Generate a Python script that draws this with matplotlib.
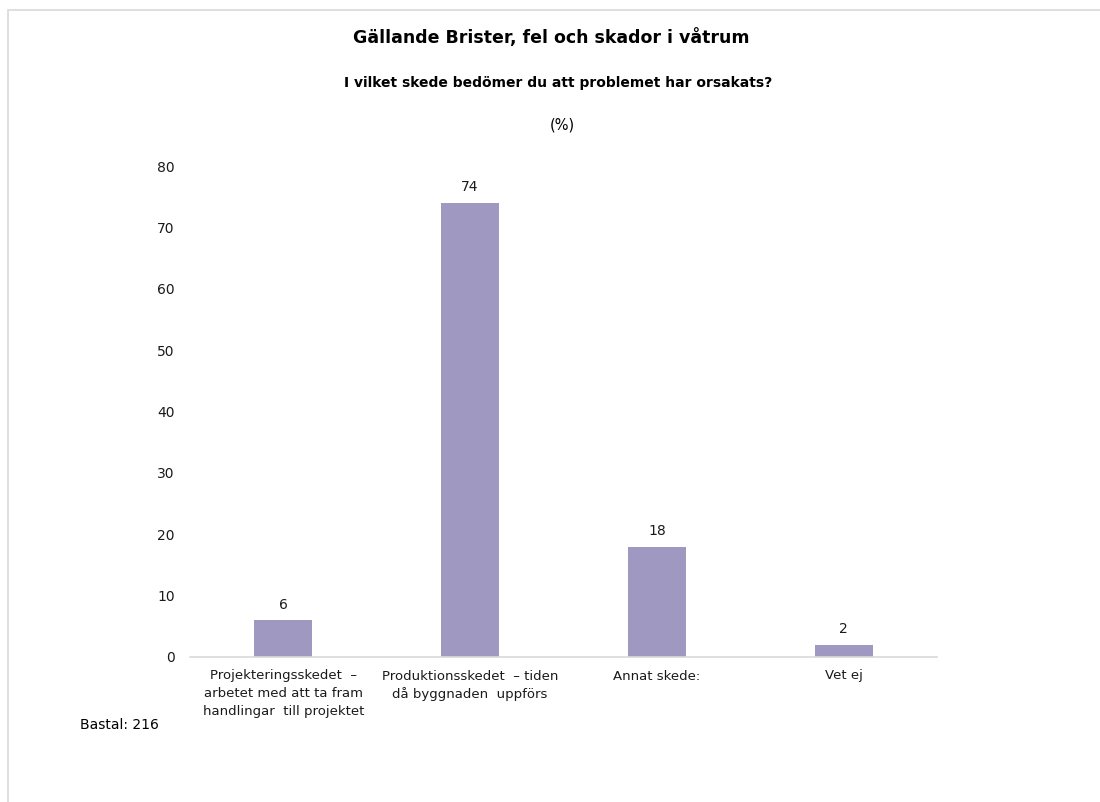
import matplotlib.pyplot as plt
from matplotlib.patches import Rectangle

# survey answers, percent of respondents
categories = ['Projekteringsskedet  –\narbetet med att ta fram\nhandlingar  till projektet',
              'Produktionsskedet  – tiden\ndå byggnaden  uppförs',
              'Annat skede:',
              'Vet ej']
percent = [6, 74, 18, 2]
yticks = [0, 10, 20, 30, 40, 50, 60, 70, 80]

W, H = 1100, 802
fig = plt.figure(figsize=(W / 100, H / 100), dpi=100)
plt.rcParams['font.family'] = ['DejaVu Sans']

# light frame round the chart area
fig.patches.append(Rectangle((8 / W, -0.1), 1.2, (H - 10) / H + 0.1,
                             transform=fig.transFigure, fill=False,
                             edgecolor='#d9d9d9', linewidth=1.2))

ax = fig.add_axes([190 / W, 1 - 657 / H, (937 - 190) / W, (657 - 166) / H])
x = range(len(categories))
ax.bar(x, percent, width=0.31, color='#9f98c0')
for i, v in zip(x, percent):
    ax.text(i, v + 1.4, f'{v:.0f}', ha='center', va='bottom', fontsize=10, color='#1a1a1a')

ax.set_xlim(-0.5, 3.5)
ax.set_ylim(0, 80)
ax.set_yticks(yticks)
ax.set_xticks(list(x))
ax.set_xticklabels(categories, fontsize=9.5, linespacing=1.45, va='top')
ax.tick_params(axis='x', length=0, pad=9, colors='#1a1a1a')
ax.tick_params(axis='y', length=0, pad=11, labelsize=10, colors='#1a1a1a')
for s in ['top', 'right', 'left']:
    ax.spines[s].set_visible(False)
ax.spines['bottom'].set_color('#d9d9d9')
ax.spines['bottom'].set_linewidth(1.2)

fig.text(551 / W, 1 - 38 / H, 'Gällande Brister, fel och skador i våtrum',
         ha='center', va='center', fontsize=12.5, fontweight='bold')
fig.text(558 / W, 1 - 83 / H, 'I vilket skede bedömer du att problemet har orsakats?',
         ha='center', va='center', fontsize=10, fontweight='bold')
fig.text(562 / W, 1 - 125 / H, '(%)', ha='center', va='center', fontsize=10.5)
fig.text(80 / W, 1 - 725 / H, 'Bastal: 216', ha='left', va='center', fontsize=10)

fig.savefig('out.png', dpi=100, facecolor='white')
